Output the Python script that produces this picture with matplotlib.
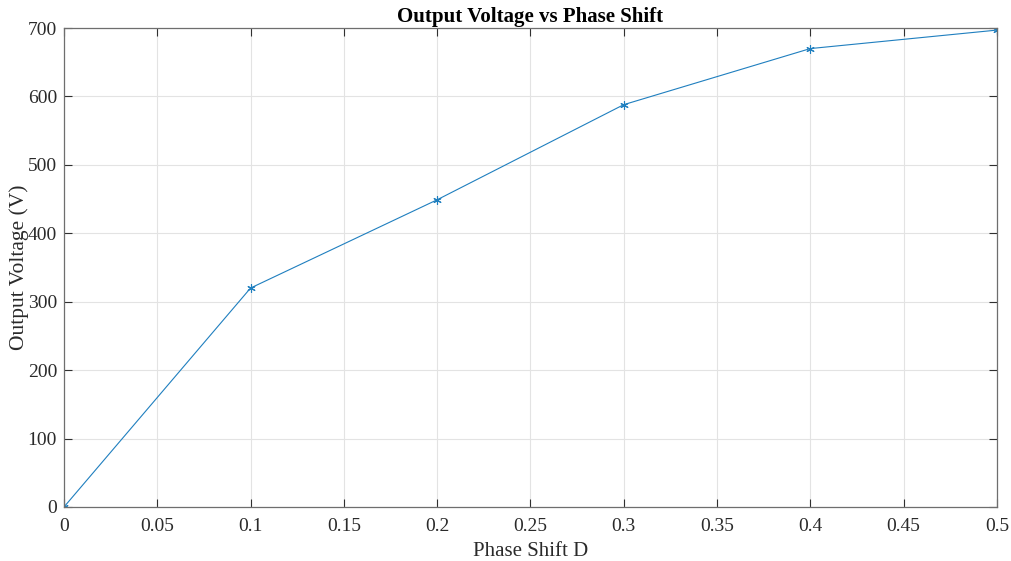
import numpy as np
import matplotlib.pyplot as plt

# phase shift sweep results
phase_shift = [0.0, 0.1, 0.2, 0.3, 0.4, 0.5]
output_voltage = [0, 320, 449, 588, 670, 697]

x_ticks = [0, 0.05, 0.1, 0.15, 0.2, 0.25, 0.3, 0.35, 0.4, 0.45, 0.5]
x_tick_labels = ["0", "0.05", "0.1", "0.15", "0.2", "0.25", "0.3", "0.35", "0.4", "0.45", "0.5"]
y_ticks = [0, 100, 200, 300, 400, 500, 600, 700]

plt.rcParams["font.family"] = ["Liberation Serif", "DejaVu Serif"]

fig = plt.figure(figsize=(10.11, 5.61), dpi=100)
ax = fig.add_axes([0.0633, 0.0963, 0.9227, 0.8537])

# MATLAB-style asterisk marker
ax.plot(phase_shift, output_voltage, color="#1f7fbf", linewidth=0.8,
        marker=(6, 2, 0), markersize=6, markeredgewidth=0.8)

ax.set_xlim(0, 0.5)
ax.set_ylim(0, 700)
ax.set_xticks(x_ticks)
ax.set_xticklabels(x_tick_labels)
ax.set_yticks(y_ticks)

ax.grid(True, color="#e3e3e3", linewidth=0.8)
ax.set_axisbelow(True)

for side in ax.spines.values():
    side.set_color("#6e6e6e")
    side.set_linewidth(0.9)

ax.tick_params(direction="in", top=True, right=True, length=6,
               width=0.8, color="#303030", labelsize=14, pad=8,
               labelcolor="#2a2a2a")
ax.tick_params(axis="y", pad=5)

ax.set_xlabel("Phase Shift D", fontsize=15, color="#2a2a2a", labelpad=5)
ax.set_ylabel("Output Voltage (V)", fontsize=15.5, color="#2a2a2a", labelpad=-1)
ax.set_title("Output Voltage vs Phase Shift", fontsize=15, fontweight="bold", pad=4)

fig.savefig("out.png", dpi=100)
plt.close(fig)
